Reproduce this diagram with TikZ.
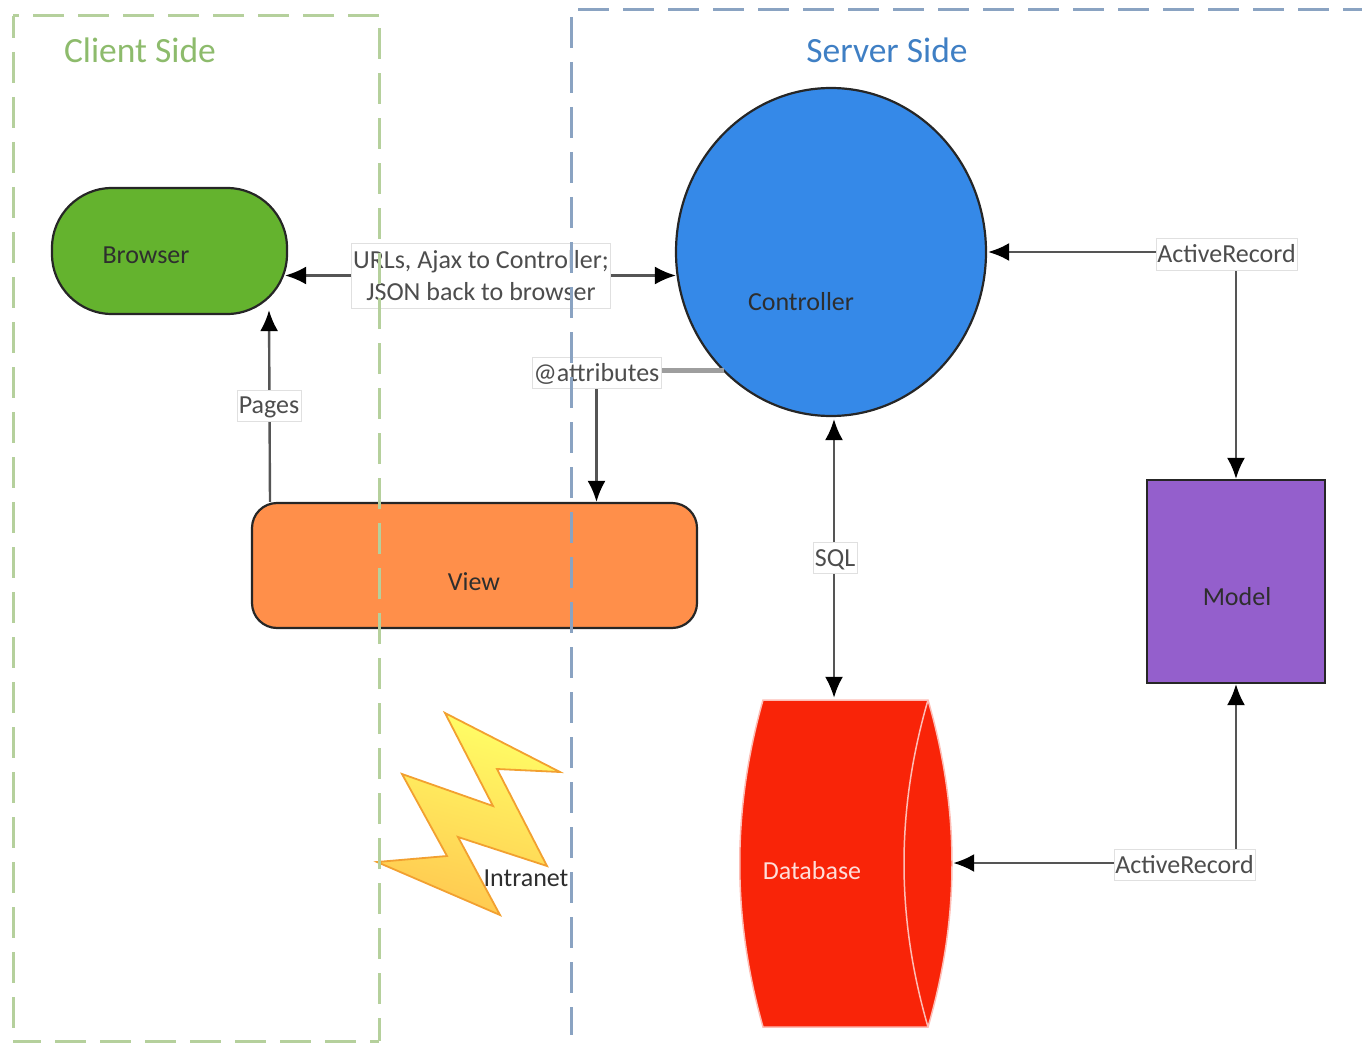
\documentclass[tikz,border=0pt]{standalone}
\usepackage{fontspec}
\setmainfont{Carlito}
\usetikzlibrary{arrows.meta,calc,shapes.geometric,backgrounds}
\definecolor{clientc}{HTML}{B5D09C}
\definecolor{clienttxt}{HTML}{8DBB6C}
\definecolor{serverc}{HTML}{8AA3C2}
\definecolor{servertxt}{HTML}{3F7FC4}
\definecolor{browserc}{HTML}{64B32E}
\definecolor{controllerc}{HTML}{3589E8}
\definecolor{viewc}{HTML}{FF8F4A}
\definecolor{modelc}{HTML}{945FCC}
\definecolor{dbc}{HTML}{F92408}
\definecolor{ink}{HTML}{2E2E2E}
\definecolor{linec}{HTML}{555555}
\definecolor{boltline}{HTML}{F2A030}
\definecolor{boltup}{HTML}{FFFF66}
\definecolor{boltdown}{HTML}{FFC850}
\newcommand{\lowered}[2]{\raisebox{-#1pt}[0pt][0pt]{#2}}
\tikzset{
  x=1pt,y=-1pt,
  shapebox/.style={draw=black!85,line width=2.2pt,inner sep=0pt},
  conn/.style={draw=linec,line width=2.4pt,-{Latex[length=21pt,width=18pt,color=black]}},
  biconn/.style={draw=linec,line width=2.4pt,{Latex[length=21pt,width=18pt,color=black]}-{Latex[length=21pt,width=18pt,color=black]}},
  edgelabel/.style={fill=white,draw=black!12,line width=1pt,inner sep=0pt,text=ink!85,align=center,font=\fontsize{26}{32}\selectfont},
  zonelabel/.style={font=\fontsize{35.5}{36}\selectfont,inner sep=0pt},
  zoneline/.style={line width=3pt,dash pattern=on 31pt off 14pt},
  plaintext/.style={inner sep=0pt,font=\fontsize{26}{26}\selectfont}
}
\begin{document}
\begin{tikzpicture}
\useasboundingbox (0,0) rectangle (1362,1043);
\begin{pgfonlayer}{background}
\node[shapebox,fill=browserc,rounded corners=60pt,minimum width=235pt,minimum height=126pt] (browser) at (169.5,251) {};
\node[shapebox,fill=controllerc,ellipse,minimum width=310pt,minimum height=328pt] (controller) at (831,252) {};
\node[shapebox,fill=viewc,rounded corners=25pt,minimum width=445pt,minimum height=125pt] (view) at (474.5,565.5) {};
\node[shapebox,fill=modelc,minimum width=178pt,minimum height=203pt] (model) at (1236,581.5) {};
\node[inner sep=0pt,minimum width=212pt,minimum height=327pt] (db) at (846,863.5) {};
\draw[white!70!dbc,line width=1.5pt,fill=dbc]
  (763,700) -- (928,700) .. controls (960,810) and (960,917) .. (928,1027)
  -- (763,1027) .. controls (732,917) and (732,810) .. (763,700) -- cycle;
\draw[white!70!dbc,line width=1.5pt] (928,700) .. controls (896,810) and (896,917) .. (928,1027);
\shade[top color=boltup,bottom color=boltdown,draw=boltline,line width=1.8pt,line join=miter,shading angle=-15]
  (445,713) -- (560,772) -- (497,769) -- (547,866) -- (458,837) -- (500,915) -- (377,862) -- (447,856) -- (402,774) -- (493,806) -- cycle;
\end{pgfonlayer}
% shape texts
\node[plaintext,text=ink] (browsertxt) at (146,255) {Browser};
\node[plaintext,text=ink] (controllertxt) at (801,302) {Controller};
\node[plaintext,text=ink] (viewtxt) at (474,582) {View};
\node[plaintext,text=ink] (modeltxt) at (1237,597) {Model};
\node[plaintext,text=white!85!dbc] (dbtxt) at (812,871) {Database};
% labels
\node[edgelabel,minimum width=259pt,minimum height=65pt] (lurls) at (481,275.5) {URLs, Ajax to Controller;\\JSON back to browser};
\node[edgelabel,minimum width=129pt,minimum height=31pt] (lattr) at (596.5,372.5) {\lowered{9}{@attributes}};
\node[edgelabel,minimum width=64pt,minimum height=31pt] (lpages) at (269,405.5) {\lowered{8}{Pages}};
\node[edgelabel,minimum width=44pt,minimum height=31pt] (lsql) at (835,557.5) {\lowered{8.5}{SQL}};
\node[edgelabel,minimum width=141pt,minimum height=32pt] (lar1) at (1226.5,254) {ActiveRecord};
\node[edgelabel,minimum width=141pt,minimum height=31pt] (lar2) at (1184.5,865) {ActiveRecord};
% connectors
\begin{pgfonlayer}{background}
\draw[conn] (lurls.west) -- ($(browser.east |- lurls.west)+(-3,0)$);
\draw[conn] (lurls.east) -- ($(controller.west |- lurls.east)+(1,0)$);
\draw[conn] ($(view.north -| lpages.south)+(1,0)$) -- ($(browser.south -| lpages.south)+(0,-5)$);
\draw[draw=black!38,line width=4.5pt] ($(lattr.east)+(0,-2)$) -- ++(62,0) coordinate (attrend);
\draw[conn] (lattr.south) -- (lattr.south |- view.north);
\draw[biconn] ($(lsql.center |- controller.south)+(-1,2)$) -- ($(lsql.center |- db.north)+(-1,-2)$);
\draw[conn] ($(lar1.west)+(0,-2)$) -- ($(controller.east |- lar1.west)+(1,-2)$);
\draw[conn] (lar1.south -| model.north) -- (model.north);
\draw[conn] ($(lar2.west)+(0,-2)$) -- ($(db.east |- lar2.west)+(1,-2)$);
\draw[conn] (lar2.north -| model.south) -- (model.south);
\end{pgfonlayer}
% intranet
\node[plaintext,text=ink] (intranet) at (526,878) {Intranet};
% zones and headings
\draw[clientc,zoneline] (379,16) -- (13,16);
\draw[clientc,zoneline,dash phase=9pt] (13,16) -- (13,1041);
\draw[clientc,zoneline,dash phase=3pt] (13,1041) -- (379,1041);
\draw[clientc,zoneline,dash phase=8pt] (379,1041) -- (379,16);
\draw[serverc,zoneline] (578,10) -- (1362,10);
\draw[serverc,zoneline] (571,17) -- (571,1035);
\node[zonelabel,text=clienttxt] (clienttitle) at (140,50) {Client Side};
\node[zonelabel,text=servertxt] (servertitle) at (887,50) {Server Side};
\end{tikzpicture}
\end{document}
